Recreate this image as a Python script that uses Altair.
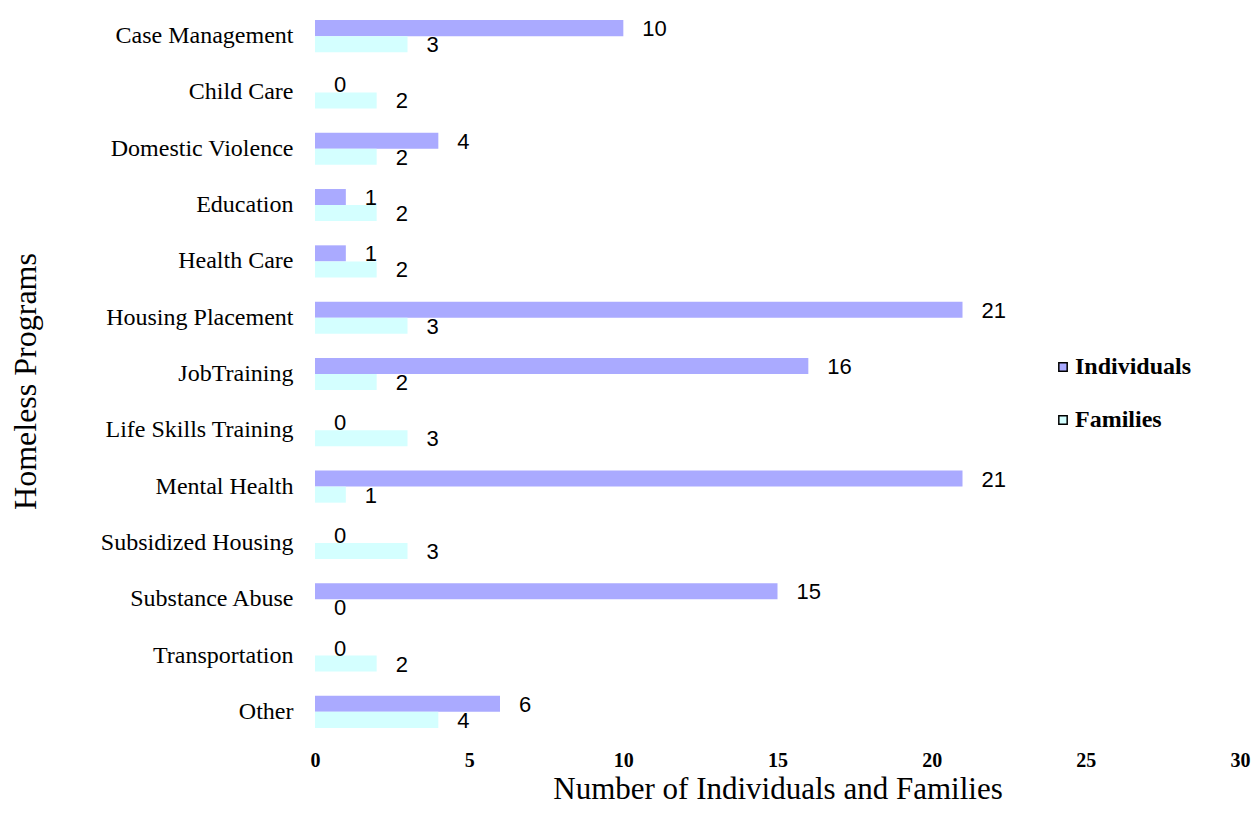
import altair as alt
import pandas as pd

categories = ["Case Management", "Child Care", "Domestic Violence", "Education",
              "Health Care", "Housing Placement", "JobTraining", "Life Skills Training",
              "Mental Health", "Subsidized Housing", "Substance Abuse", "Transportation", "Other"]
individuals = [10, 0, 4, 1, 1, 21, 16, 0, 21, 0, 15, 0, 6]
families = [3, 2, 2, 2, 2, 3, 2, 3, 1, 3, 0, 2, 4]
series = ["Individuals", "Families"]
colors = ["#AAAAFF", "#D4FFFF"]
x_ticks = [0, 5, 10, 15, 20, 25, 30]

rows = []
for c, i, f in zip(categories, individuals, families):
    rows.append({"program": c, "series": "Individuals", "value": i})
    rows.append({"program": c, "series": "Families", "value": f})
df = pd.DataFrame(rows)

y_enc = alt.Y("program:N", sort=categories,
              scale=alt.Scale(paddingInner=0.43, paddingOuter=0.215),
              axis=alt.Axis(title="Homeless Programs", ticks=False, domain=False,
                            labelFont="Liberation Serif", labelFontSize=24, labelColor="black",
                            labelPadding=22, labelLimit=400, titleFont="Liberation Serif",
                            titleFontSize=32, titleFontWeight="normal", titleColor="black",
                            titleAngle=270, titleX=-290, titleY=373, titleAlign="center",
                            titleBaseline="middle"))
yoff = alt.YOffset("series:N", sort=series, scale=alt.Scale(paddingInner=0, paddingOuter=0))
x_enc = alt.X("value:Q", scale=alt.Scale(domain=[0, 30], nice=False),
              axis=alt.Axis(title="Number of Individuals and Families", values=x_ticks,
                            grid=False, ticks=False, domain=False, labelFont="Liberation Serif",
                            labelFontSize=20, labelFontWeight="bold", labelColor="black",
                            labelPadding=10, labelFlush=False, titleFont="Liberation Serif",
                            titleFontSize=31, titleFontWeight="normal", titleColor="black",
                            titleY=58, titleBaseline="alphabetic"))

bars = alt.Chart(df).mark_bar().encode(
    x=x_enc, y=y_enc, yOffset=yoff,
    color=alt.Color("series:N", sort=series,
                    scale=alt.Scale(domain=series, range=colors),
                    legend=alt.Legend(title=None, orient="none", legendX=736, legendY=347,
                                      symbolType="square", symbolSize=70,
                                      symbolStrokeColor="black", symbolStrokeWidth=1.5,
                                      labelFont="Liberation Serif", labelFontSize=24,
                                      labelFontWeight="bold", labelColor="black",
                                      rowPadding=29, labelOffset=0)),
)

labels = alt.Chart(df).mark_text(align="left", baseline="middle", dx=19, dy=1,
                                 font="Liberation Sans", fontSize=22, color="black").encode(
    x="value:Q", y=alt.Y("program:N", sort=categories), yOffset=alt.YOffset("series:N", sort=series),
    text="value:Q",
)

chart = (bars + labels).properties(
    width=925, height=732,
    background="white",
    autosize=alt.AutoSizeParams(type="none"),
    padding={"left": 307, "top": 0, "right": 11, "bottom": 67},
).configure_view(strokeWidth=0, stroke="transparent")

chart.save("out.html", embed_options={"renderer": "svg", "actions": False})
